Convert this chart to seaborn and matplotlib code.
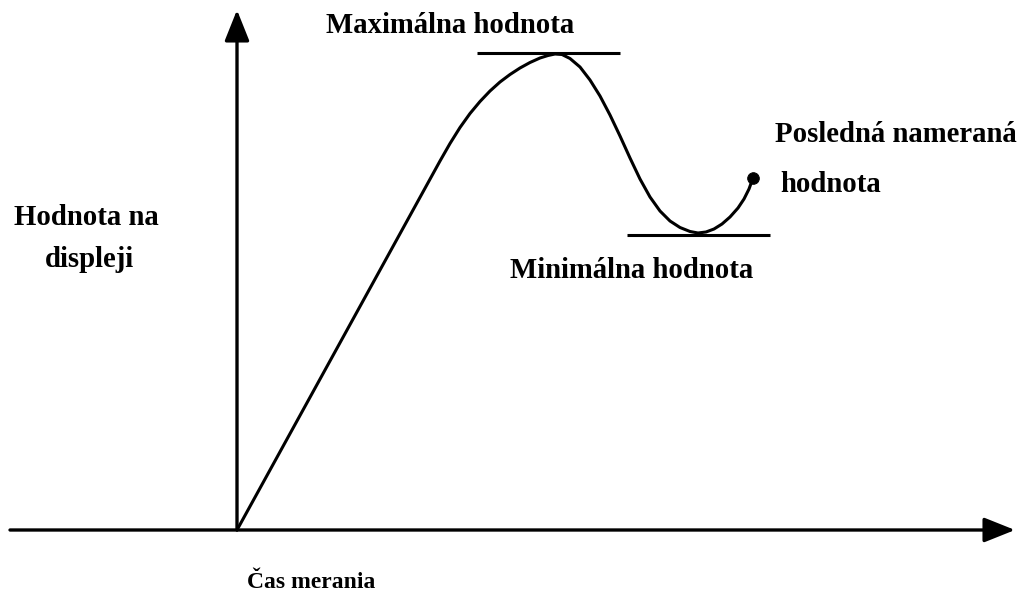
import matplotlib
matplotlib.use("Agg")
import matplotlib.pyplot as plt
import seaborn as sns
import pandas as pd

# Curve (time, displayed value)
time = [0, 203, 213, 223, 233, 243, 253, 263, 273, 283, 293, 303, 311, 318,
        325, 333, 343, 353, 363, 373, 383, 393, 403, 413, 423, 433, 443, 453,
        461, 469, 477, 485, 493, 501, 507, 512, 516]
value = [0, 369, 386.5, 402.5, 416.5, 428.5, 439, 448, 455.5, 462, 467.5, 472,
         474.5, 476, 475.5, 471.5, 463, 450, 434, 415, 394, 372, 351, 333,
         319, 309, 302.5, 298.5, 297, 298, 301, 306, 313, 322, 331, 341, 352]

max_value = 477
max_span = [240, 383]
min_value = 295
min_span = [390, 533]

x_axis_span = [-227, 778]
y_axis_top = 520

labels = {
    "max": "Maximálna hodnota",
    "min": "Minimálna hodnota",
    "last1": "Posledná nameraná",
    "last2": "hodnota",
    "y1": "Hodnota na",
    "y2": "displeji",
    "x": "Čas merania",
}

sns.set_style("white")
plt.rcParams["font.family"] = ["Liberation Serif", "DejaVu Serif"]

fig = plt.figure(figsize=(10.24, 5.93), dpi=100)
ax = fig.add_axes([0, 0, 1, 1])
ax.set_xlim(-237, 787)
ax.set_ylim(-63, 530)
ax.axis("off")

df = pd.DataFrame({"time": time, "value": value})
sns.lineplot(data=df, x="time", y="value", sort=False, color="black",
             linewidth=2.2, ax=ax, solid_joinstyle="round", solid_capstyle="round")
last = df.iloc[[-1]]
sns.scatterplot(data=last, x="time", y="value", color="black", s=70,
                edgecolor="black", ax=ax, zorder=5)

ax.hlines(max_value, max_span[0], max_span[1], color="black", lw=2.2)
ax.hlines(min_value, min_span[0], min_span[1], color="black", lw=2.2)

arrow = dict(arrowstyle="-|>,head_length=0.95,head_width=0.38", color="black",
             lw=2.4, mutation_scale=20, shrinkA=0, shrinkB=0)
ax.annotate("", xy=(x_axis_span[1], 0), xytext=(x_axis_span[0], 0), arrowprops=arrow)
ax.annotate("", xy=(0, y_axis_top), xytext=(0, 0), arrowprops=arrow)

fs = 20.7
kw = dict(fontsize=fs, fontweight="bold", color="black", va="baseline")
ax.text(213, 497, labels["max"], ha="center", **kw)
ax.text(395, 252, labels["min"], ha="center", **kw)
ax.text(538, 388, labels["last1"], ha="left", **kw)
ax.text(543, 338, labels["last2"], ha="left", **kw)
ax.text(-151, 305, labels["y1"], ha="center", **kw)
ax.text(-148, 263, labels["y2"], ha="center", **kw)
ax.text(10, -58, labels["x"], ha="left", fontsize=17, fontweight="bold",
        color="black", va="baseline")

fig.savefig("out.png", dpi=100, facecolor="white")
